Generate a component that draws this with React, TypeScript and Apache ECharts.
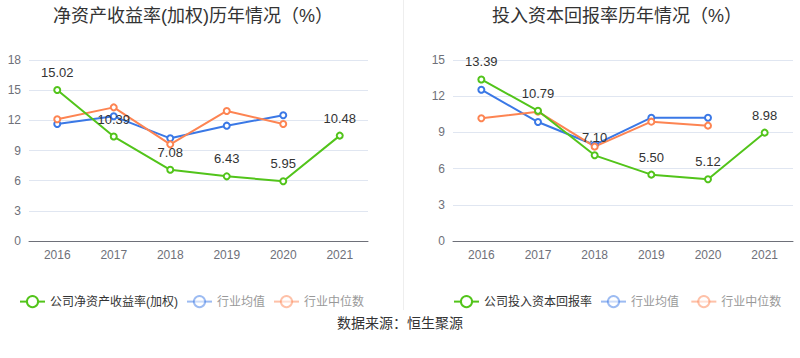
import React, { useEffect, useRef } from "react";
import * as echarts from "echarts";

const years = ["2016", "2017", "2018", "2019", "2020", "2021"];

const roeCompany = [15.02, 10.39, 7.08, 6.43, 5.95, 10.48];
const roeIndustryMean = [11.64, 12.4, 10.21, 11.47, 12.5, null];
const roeIndustryMedian = [12.1, 13.29, 9.61, 12.93, 11.64, null];

const roicCompany = [13.39, 10.79, 7.1, 5.5, 5.12, 8.98];
const roicIndustryMean = [12.54, 9.86, 7.96, 10.22, 10.22, null];
const roicIndustryMedian = [10.17, 10.72, 7.82, 9.89, 9.56, null];

const title1 = "净资产收益率(加权)历年情况（%）";
const title2 = "投入资本回报率历年情况（%）";
const legend1 = ["公司净资产收益率(加权)", "行业均值", "行业中位数"];
const legend2 = ["公司投入资本回报率", "行业均值 ", "行业中位数 "];
const sourceText = "数据来源：恒生聚源";

const GREEN = "#52c41a";
const BLUE = "#3a78e6";
const ORANGE = "#fd8452";
const FONT = "Liberation Sans, Noto Sans CJK SC, sans-serif";

export default function App() {
  const ref = useRef<HTMLDivElement>(null);

  useEffect(() => {
    document.body.style.margin = "0";
    const chart = echarts.init(ref.current!, null, { renderer: "svg" });

    const mkX = (gridIndex: number) => ({
      type: "category",
      gridIndex,
      data: years,
      boundaryGap: true,
      axisLine: { lineStyle: { color: "#6e7079" } },
      axisTick: { alignWithLabel: true, lineStyle: { color: "#6e7079" } },
      axisLabel: { color: "#6e7079", fontSize: 12, margin: 8, fontFamily: FONT },
    });
    const mkY = (gridIndex: number, max: number) => ({
      type: "value",
      gridIndex,
      min: 0,
      max,
      interval: 3,
      axisLabel: { color: "#6e7079", fontSize: 12, fontFamily: FONT },
      splitLine: { lineStyle: { color: "#e0e6f1" } },
    });
    const mkSeries = (
      name: string,
      data: (number | null)[],
      color: string,
      idx: number,
      withLabel: boolean
    ) => ({
      name,
      type: "line",
      xAxisIndex: idx,
      yAxisIndex: idx,
      data,
      symbol: "emptyCircle",
      symbolSize: 6,
      lineStyle: { width: 2, color },
      itemStyle: { color, borderWidth: 2 },
      z: withLabel ? 3 : 2,
      label: withLabel
        ? {
            show: true,
            position: "top",
            distance: 7,
            color: "#333",
            fontSize: 13,
            fontFamily: FONT,
            formatter: (p: any) => Number(p.value).toFixed(2),
          }
        : { show: false },
    });
    const faded = (name: string) => ({
      name,
      itemStyle: { opacity: 0.5 },
      lineStyle: { opacity: 0.5 },
      textStyle: { color: "#999" },
    });

    chart.setOption({
      animation: false,
      title: [
        {
          text: title1,
          left: 48,
          top: 2,
          textStyle: { fontSize: 18, fontWeight: "normal", color: "#333", fontFamily: FONT },
        },
        {
          text: title2,
          left: 487,
          top: 2,
          textStyle: { fontSize: 18, fontWeight: "normal", color: "#333", fontFamily: FONT },
        },
      ],
      legend: [
        {
          left: 14,
          top: 290,
          itemGap: 8,
          itemWidth: 25,
          itemHeight: 14,
          textStyle: { fontSize: 12, color: "#333", fontFamily: FONT },
          data: [legend1[0], faded(legend1[1]), faded(legend1[2])],
        },
        {
          left: 448,
          top: 290,
          itemGap: 8,
          itemWidth: 25,
          itemHeight: 14,
          textStyle: { fontSize: 12, color: "#333", fontFamily: FONT },
          data: [legend2[0], faded(legend2[1]), faded(legend2[2])],
        },
      ],
      grid: [
        { left: 29, right: 432, top: 60, bottom: 117 },
        { left: 453, right: 7, top: 60, bottom: 117 },
      ],
      xAxis: [mkX(0), mkX(1)],
      yAxis: [mkY(0, 18), mkY(1, 15)],
      series: [
        mkSeries(legend1[1], roeIndustryMean, BLUE, 0, false),
        mkSeries(legend1[2], roeIndustryMedian, ORANGE, 0, false),
        mkSeries(legend1[0], roeCompany, GREEN, 0, true),
        mkSeries(legend2[1], roicIndustryMean, BLUE, 1, false),
        mkSeries(legend2[2], roicIndustryMedian, ORANGE, 1, false),
        mkSeries(legend2[0], roicCompany, GREEN, 1, true),
      ],
      graphic: [
        {
          type: "line",
          shape: { x1: 403.5, y1: 0, x2: 403.5, y2: 310 },
          style: { stroke: "#eeeeee", lineWidth: 1 },
        },
        {
          type: "text",
          left: "center",
          top: 316,
          style: { text: sourceText, fontSize: 14, fill: "#333", fontFamily: FONT },
        },
      ],
    });

    return () => chart.dispose();
  }, []);

  return <div ref={ref} style={{ width: 800, height: 358 }} />;
}
